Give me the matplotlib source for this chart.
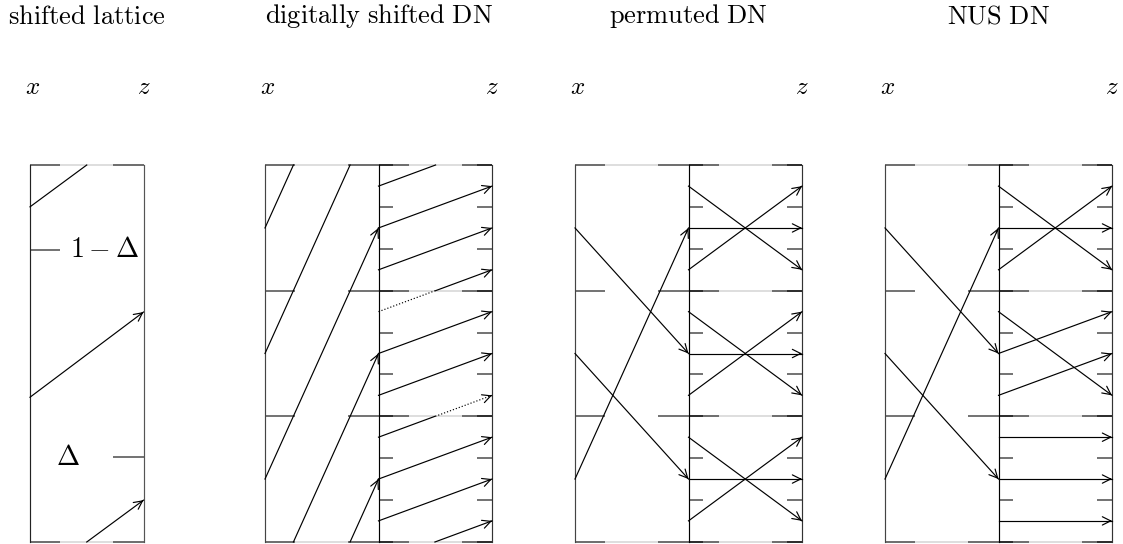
import matplotlib
matplotlib.use('Agg')
import matplotlib.pyplot as plt

plt.rcParams['mathtext.fontset'] = 'cm'
plt.rcParams['font.family'] = ['DejaVu Serif']

W, H = 1123, 544

# titles of the four panels
titles = [r'$\mathrm{shifted\ lattice}$', r'$\mathrm{digitally\ shifted\ DN}$',
          r'$\mathrm{permuted\ DN}$', r'$\mathrm{NUS\ DN}$']

# shifted lattice: two points and their images (shift delta, mod 1)
delta = 0.225
lattice_x = [0.384, 0.889]
lattice_z = [0.610, 0.111]

# first digit (3 intervals) and where it is sent
first_pts = [0.167, 0.5, 0.833]
first_img = [0.833, 0.167, 0.5]

# second digit (9 intervals) and where it is sent in each panel
second_pts = [0.056, 0.167, 0.278, 0.389, 0.5, 0.611, 0.722, 0.833, 0.944]
shift_img = [0.167, 0.278, 0.056, 0.5, 0.611, 0.389, 0.833, 0.944, 0.722]
perm_img = [0.278, 0.167, 0.056, 0.611, 0.5, 0.389, 0.944, 0.833, 0.722]
nus_img = [0.056, 0.167, 0.278, 0.5, 0.611, 0.389, 0.944, 0.833, 0.722]

thirds = [0.0, 1/3, 2/3, 1.0]
ninths = [1/9, 2/9, 4/9, 5/9, 7/9, 8/9]

LW = 0.85
LONG, SHORT = 0.265, 0.13
LIGHT, TICK = '#d8d8d8', '#5a5a5a'


def arrow(ax, p0, p1, ls='-'):
    ax.plot([p0[0], p1[0]], [p0[1], p1[1]], color='k', lw=LW, ls=ls, clip_on=False)
    dx, dy = p1[0] - p0[0], p1[1] - p0[1]
    ax.annotate('', xy=p1, xytext=(p1[0] - 0.02 * dx, p1[1] - 0.02 * dy),
                arrowprops=dict(arrowstyle='->,head_length=0.5,head_width=0.25',
                                mutation_scale=12, lw=LW, color='k',
                                shrinkA=0, shrinkB=0))


def wrapped(ax, x0, y0, y1, lo, hi, ls='-'):
    # move upward from y0 to y1, wrapping around the interval [lo, hi]
    if y1 >= y0:
        arrow(ax, (x0, y0), (x0 + 1, y1))
    else:
        t = (hi - y0) / ((hi - y0) + (y1 - lo))
        ax.plot([x0, x0 + t], [y0, hi], color='k', lw=LW, ls=ls, clip_on=False)
        arrow(ax, (x0 + t, lo), (x0 + 1, y1), ls)


def hline(ax, x0, x1, y, c, lw=1.2):
    ax.plot([x0, x1], [y, y], color=c, lw=lw, solid_capstyle='butt', clip_on=False)


def column(ax, x0, lights, long_ticks, short_ticks):
    for y in lights:
        hline(ax, x0, x0 + 1, y, LIGHT)
    for y in long_ticks:
        hline(ax, x0, x0 + LONG, y, TICK)
        hline(ax, x0 + 1 - LONG, x0 + 1, y, TICK)
    for y in short_ticks:
        hline(ax, x0, x0 + SHORT, y, TICK)
        hline(ax, x0 + 1 - SHORT, x0 + 1, y, TICK)


fig = plt.figure(figsize=(W / 100, H / 100), dpi=100)

top, bottom = 165, 542
lefts = [30, 265, 575, 885]
colw = 113.5

axes = []
for i, l in enumerate(lefts):
    ncol = 1 if i == 0 else 2
    ax = fig.add_axes([l / W, 1 - bottom / H, ncol * colw / W, (bottom - top) / H])
    ax.set_xlim(0, ncol)
    ax.set_ylim(0, 1)
    ax.axis('off')
    axes.append(ax)
    fig.text((l + ncol * colw / 2) / W, 1 - 16 / H, titles[i], ha='center', va='center',
             fontsize=19)
    fig.text((l + 3) / W, 1 - 88 / H, r'$x$', ha='center', va='center', fontsize=18)
    fig.text((l + ncol * colw) / W, 1 - 88 / H, r'$z$', ha='center', va='center', fontsize=18)

# panel 1: shifted lattice
ax = axes[0]
hline(ax, 0, 1, 0, LIGHT)
hline(ax, 0, 1, 1, LIGHT)
for y in [0, 1 - delta, 1]:
    hline(ax, 0, LONG, y, TICK)
for y in [0, delta, 1]:
    hline(ax, 1 - LONG, 1, y, TICK)
ax.plot([0, 0], [0, 1], color='#222222', lw=LW, clip_on=False)
ax.plot([1, 1], [0, 1], color='#555555', lw=LW, clip_on=False)
for a, b in zip(lattice_x, lattice_z):
    wrapped(ax, 0, a, b, 0, 1)
ax.text(0.66, 1 - delta, r'$1-\Delta$', ha='center', va='center', fontsize=20)
ax.text(0.33, delta, r'$\Delta$', ha='center', va='center', fontsize=20)

# panels 2-4: digital nets
for k, img in enumerate([shift_img, perm_img, nus_img]):
    ax = axes[k + 1]
    column(ax, 0, [0, 1], thirds, [])
    column(ax, 1, thirds, thirds, ninths)
    for y in thirds:
        hline(ax, 1, 1 + SHORT, y, '#222222')
        hline(ax, 2 - SHORT, 2, y, '#222222')
    ax.plot([0, 0], [0, 1], color='#444444', lw=LW, clip_on=False)
    ax.plot([1, 1], [0, 1], color='k', lw=LW, clip_on=False)
    ax.plot([2, 2], [0, 1], color='#333333', lw=LW, clip_on=False)

    # first digit, left column
    for a, b in zip(first_pts, first_img):
        if k == 0:
            wrapped(ax, 0, a, b, 0, 1)
        else:
            arrow(ax, (0, a), (1, b))

    # second digit, right column (wrap in the middle block drawn dotted)
    for j, (a, b) in enumerate(zip(second_pts, img)):
        blk = j // 3
        lo, hi = thirds[blk], thirds[blk + 1]
        if k == 0:
            wrapped(ax, 1, a, b, lo, hi, ':' if blk == 1 else '-')
        else:
            arrow(ax, (1, a), (2, b))

fig.savefig('out.png', dpi=100)
